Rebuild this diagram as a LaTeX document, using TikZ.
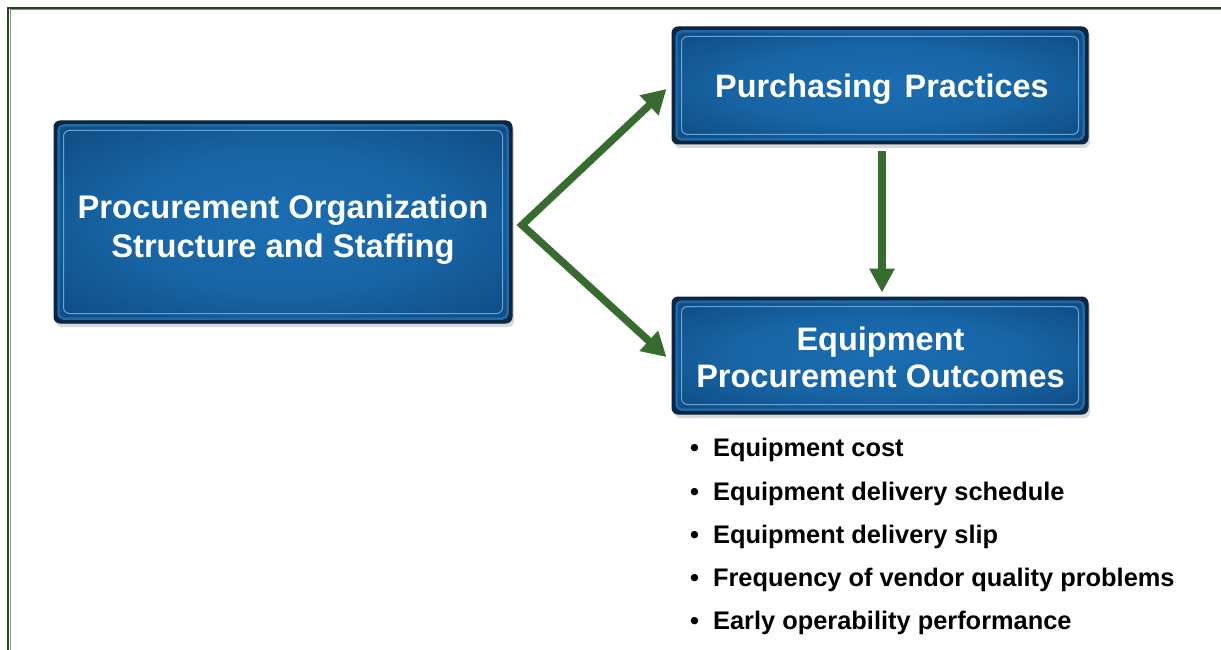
\documentclass[tikz,border=0pt]{standalone}
\usepackage{fontspec}
\setmainfont{Liberation Sans}
\usetikzlibrary{arrows.meta,shadows,calc}

\definecolor{framegreen}{HTML}{2A4324}
\definecolor{framelight}{HTML}{7A9872}
\definecolor{arrowgreen}{HTML}{386B30}
\definecolor{navyedge}{HTML}{0A2640}
\definecolor{rimblue}{HTML}{2068A8}
\definecolor{glowblue}{HTML}{1B6DB2}
\definecolor{deepblue}{HTML}{0C4273}
\definecolor{linelight}{HTML}{62A4DC}

\pgfdeclareradialshading{panelglow}{\pgfpoint{0bp}{0bp}}{%
  color(0bp)=(glowblue);
  color(18bp)=(glowblue!80!deepblue);
  color(42bp)=(deepblue);
  color(70bp)=(deepblue!85!black)}

\tikzset{
  panel/.style={rectangle, rounded corners=6pt, fill=navyedge, draw=navyedge,
    line width=1pt, inner sep=0pt,
    drop shadow={opacity=0.3, shadow xshift=2pt, shadow yshift=-4pt}},
  paneltext/.style={text=white, align=center, inner sep=0pt},
  flow/.style={draw=arrowgreen, line width=7.5pt, line join=miter},
  bulletline/.style={anchor=base west, inner sep=0pt, text=black,
    font=\fontsize{25.4}{30}\selectfont\bfseries}
}

% blue panel: name, centre, width, height
\newcommand{\bluepanel}[4]{%
  \node[panel, minimum width=#3pt, minimum height=#4pt] (#1) at (#2) {};
  \shade[shading=panelglow, draw=rimblue, line width=2.5pt, rounded corners=5pt]
    ($(#1.north west)+(5,5)$) rectangle ($(#1.south east)+(-5,-5)$);
  \draw[linelight, line width=1pt, rounded corners=6pt]
    ($(#1.north west)+(10,10)$) rectangle ($(#1.south east)+(-10,-10)$);
}

\begin{document}
\begin{tikzpicture}[x=1pt, y=-1pt]
  \useasboundingbox (0,0) rectangle (1221,650);
  \fill[white] (0,0) rectangle (1221,650);

  % page frame
  \draw[framegreen, line width=2.6pt] (8,650) -- (8,8) -- (1221,8);
  \draw[framelight, line width=0.8pt] (9.9,650) -- (9.9,9.9) -- (1221,9.9);

  % panels
  \bluepanel{L}{283,222}{458}{202}
  \bluepanel{P}{880,85.5}{416}{117}
  \bluepanel{E}{880,355.5}{416}{117}

  \node[paneltext, font=\fontsize{32.7}{39}\selectfont\bfseries] (Lt) at (283,229.6)
    {Procurement Organization\\Structure and Staffing};
  \node[paneltext, font=\fontsize{32.4}{39}\selectfont\bfseries, anchor=base] (Pt) at (882,98)
    {Purchasing\hspace{4pt} Practices};
  \node[paneltext, font=\fontsize{32.5}{37}\selectfont\bfseries] (Et) at (880.5,357.6)
    {Equipment\\Procurement Outcomes};

  % connectors
  \coordinate (fork) at (522,225);
  \draw[flow, {Triangle[length=24pt,width=26pt]}-{Triangle[length=24pt,width=26pt]}]
    ($(P.west)+(-5,3.5)$) -- (fork) -- ($(E.west)+(-5,1.5)$);
  \draw[flow, -{Triangle[length=24pt,width=24pt]}]
    ($(P.south)+(2,7)$) -- ($(E.north)+(2,-4)$);

  % outcome measures
  \node[bulletline] (b1) at (690,456) {•\hspace{14pt}Equipment cost};
  \node[bulletline] (b2) at (690,500) {•\hspace{14pt}Equipment delivery schedule};
  \node[bulletline] (b3) at (690,543) {•\hspace{14pt}Equipment delivery slip};
  \node[bulletline] (b4) at (690,586) {•\hspace{14pt}Frequency of vendor quality problems};
  \node[bulletline] (b5) at (690,629) {•\hspace{14pt}Early operability performance};
\end{tikzpicture}
\end{document}
